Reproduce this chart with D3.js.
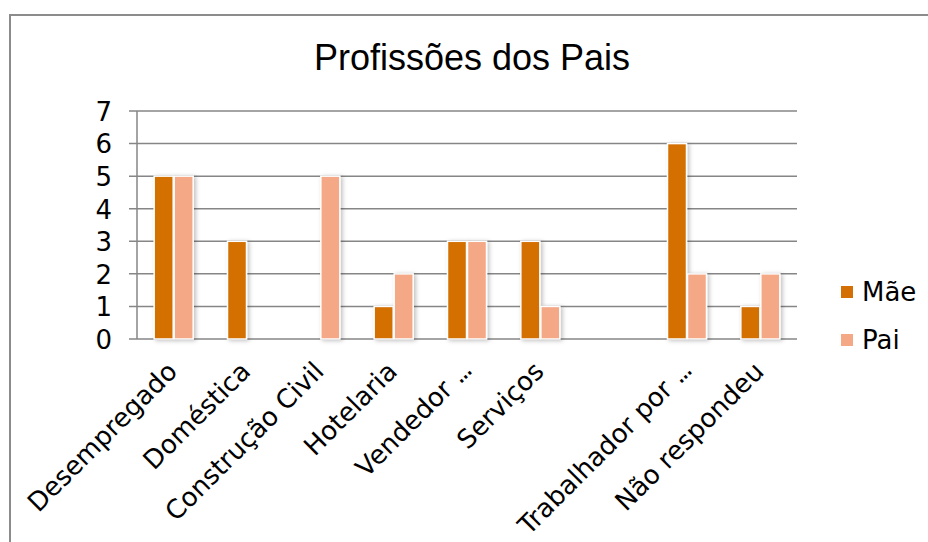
<!DOCTYPE html>
<html><head><meta charset="utf-8">
<script src="https://cdn.jsdelivr.net/npm/d3@7"></script>
<style>body{margin:0;background:#fff}svg{display:block}</style>
</head><body>
<svg id="c" width="928" height="542"></svg>
<script>
const categories = ["Desempregado","Doméstica","Construção Civil","Hotelaria","Vendedor ...","Serviços","","Trabalhador por ...","Não respondeu"];
const seriesNames = ["Mãe","Pai"];
const maeValues = [5,3,0,1,3,3,0,6,1];
const paiValues = [5,0,5,2,3,1,0,2,2];
const yTicks = [0,1,2,3,4,5,6,7];
const colors = ["#D46F06","#F4A886"];

const svg = d3.select("#c");
const defs = svg.append("defs");
const f = defs.append("filter").attr("id","sh").attr("x","-20%").attr("y","-10%").attr("width","160%").attr("height","130%");
f.append("feDropShadow").attr("dx",2).attr("dy",1).attr("stdDeviation",2).attr("flood-color","#000").attr("flood-opacity",0.25);

// outer border
svg.append("path").attr("d","M10,542 V15 H928").attr("fill","none").attr("stroke","#8c8c8c").attr("stroke-width",2);

const x0 = 137, x1 = 797, yB = 339, yT = 111;
const x = d3.scaleBand().domain(d3.range(categories.length)).range([x0,x1]).paddingInner(0.4545).paddingOuter(0.2273);
const xs = d3.scaleBand().domain([0,1]).range([0,x.bandwidth()]);
const y = d3.scaleLinear().domain([0,7]).range([yB,yT]);

// gridlines
svg.append("g").selectAll("line").data(yTicks).join("line")
  .attr("x1",129).attr("x2",x1).attr("y1",d=>y(d)).attr("y2",d=>y(d))
  .attr("stroke","#868686").attr("stroke-width",1.5);
svg.append("line").attr("x1",x0).attr("x2",x0).attr("y1",yT).attr("y2",yB).attr("stroke","#868686").attr("stroke-width",1.5);

// y axis labels
const yAxis = d3.axisLeft(y).tickValues(yTicks).tickFormat(d3.format("d")).tickSize(0).tickPadding(0);
const ga = svg.append("g").attr("transform","translate(112,0)").call(yAxis);
ga.select(".domain").remove();
ga.selectAll("text").attr("font-family","DejaVu Sans, Verdana, sans-serif").attr("font-size",26).attr("fill","#000").attr("dy","0.36em");

// bars
const data = categories.map((c,i)=>({i, vals:[maeValues[i],paiValues[i]]}));
const g = svg.append("g");
data.forEach(d=>{
  d.vals.forEach((v,k)=>{
    if(v<=0) return;
    g.append("rect")
      .attr("x", x(d.i)+xs(k)+0.5).attr("y", y(v))
      .attr("width", xs.bandwidth()-1).attr("height", yB - y(v))
      .attr("fill", colors[k]).attr("stroke","#fff").attr("stroke-width",1.5)
      .attr("filter","url(#sh)");
  });
});

// x labels
const xl = svg.append("g").selectAll("text").data(categories).join("text")
  .attr("transform",(d,i)=>`translate(${x(i)+x.bandwidth()/2+5},373) rotate(-45)`)
  .attr("text-anchor","end")
  .attr("font-family","DejaVu Sans, Verdana, sans-serif").attr("font-size",26).attr("fill","#000");
xl.each(function(d){
  const t = d3.select(this);
  if(d.endsWith("...")){
    t.append("tspan").text(d.slice(0,-3));
    t.append("tspan").attr("letter-spacing",-2.6).text("...");
  } else t.text(d);
});

// title
svg.append("text").attr("x",472).attr("y",70).attr("text-anchor","middle")
  .attr("font-family","Liberation Sans, Arial, sans-serif").attr("font-size",36).attr("fill","#000")
  .text("Profissões dos Pais");

// legend
const lg = svg.append("g");
seriesNames.forEach((s,k)=>{
  lg.append("rect").attr("x",841).attr("y",286+k*48).attr("width",12).attr("height",12).attr("fill",colors[k]);
  lg.append("text").attr("x",862).attr("y",301+k*48).attr("font-family","DejaVu Sans, Verdana, sans-serif").attr("font-size",26).attr("fill","#000").text(s);
});
</script>
</body></html>
